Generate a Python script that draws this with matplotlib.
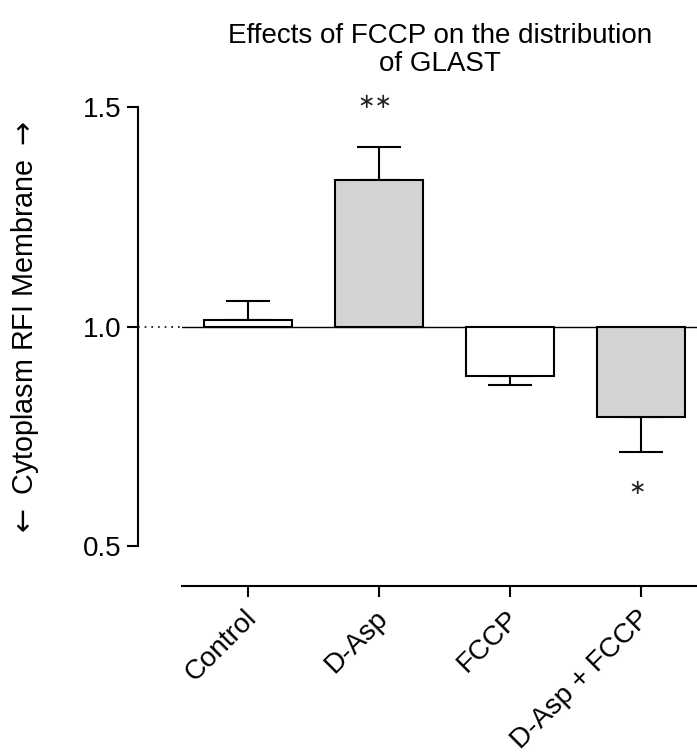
import matplotlib.pyplot as plt
from matplotlib.transforms import ScaledTranslation

plt.rcParams['font.family'] = ['Liberation Sans', 'DejaVu Sans']

# data
groups = ["Control", "D-Asp", "FCCP", "D-Asp + FCCP"]
ratio = [1.014, 1.333, 0.888, 0.795]
sem = [0.043, 0.076, 0.021, 0.080]
fills = ["white", "#d3d3d3", "white", "#d3d3d3"]
stars = ["", "\u2217\u2217", "", "\u2217"]


def main():
    fig = plt.figure(figsize=(6.97, 7.53), dpi=100)
    ax = fig.add_axes([0.2611, 0.2218, 0.739, 0.6361])
    x = list(range(len(groups)))

    # bars grow from the 1.0 baseline
    ax.bar(x, [r - 1 for r in ratio], bottom=1, width=0.67, color=fills,
           edgecolor="black", linewidth=1.5, zorder=3)

    # one-sided error bars, away from the baseline
    for i in x:
        if ratio[i] >= 1:
            yerr = [[0], [sem[i]]]
        else:
            yerr = [[sem[i]], [0]]
        ax.errorbar([i], [ratio[i]], yerr=yerr, fmt="none", ecolor="black",
                    elinewidth=1.5, capsize=15.8, capthick=1.5, zorder=2)
        if stars[i]:
            if ratio[i] >= 1:
                ys = 1.512
            else:
                ys = ratio[i] - sem[i] - 0.082
            ax.text(i - 0.03, ys, stars[i], ha="center", va="center",
                    fontsize=15, color="#222222", family="DejaVu Sans",
                    clip_on=False)

    # baseline: dotted outside the bars' area, solid across it
    ax.axhline(1.0, color="black", linewidth=1.0, zorder=1)
    ax.plot([-0.84, -0.504], [1.0, 1.0], color="black", linestyle=(0, (1, 3)),
            linewidth=1.2, clip_on=False)

    ax.set_xlim(-0.504, 3.427)
    ax.set_ylim(0.409, 1.5)

    ax.spines["top"].set_visible(False)
    ax.spines["right"].set_visible(False)
    ax.spines["left"].set_position(("outward", 31.7))
    ax.spines["left"].set_bounds(0.5, 1.5)
    ax.spines["left"].set_linewidth(1.5)
    ax.spines["bottom"].set_linewidth(1.5)

    ax.set_yticks([0.5, 1.0, 1.5])
    ax.set_yticklabels(["0.5", "1.0", "1.5"])
    ax.set_xticks(x)
    ax.set_xticklabels(groups, rotation=45, ha="right", rotation_mode="anchor")
    ax.tick_params(axis="both", direction="out", length=8, width=1.5,
                   labelsize=20, pad=4)
    shift = ScaledTranslation(-4 / 100, -2.5 / 100, fig.dpi_scale_trans)
    for lab in ax.get_xticklabels():
        lab.set_transform(lab.get_transform() + shift)

    fig.text(25 / 697, 1 - 329 / 753,
             r"$\leftarrow$ Cytoplasm RFI Membrane $\rightarrow$",
             rotation=90, ha="center", va="center", fontsize=20.7)
    fig.text(0.631, 0.969, "Effects of FCCP on the distribution\nof GLAST",
             ha="center", va="top", fontsize=20, linespacing=1.1)

    fig.savefig("out.png", dpi=100)
    plt.close(fig)


main()
